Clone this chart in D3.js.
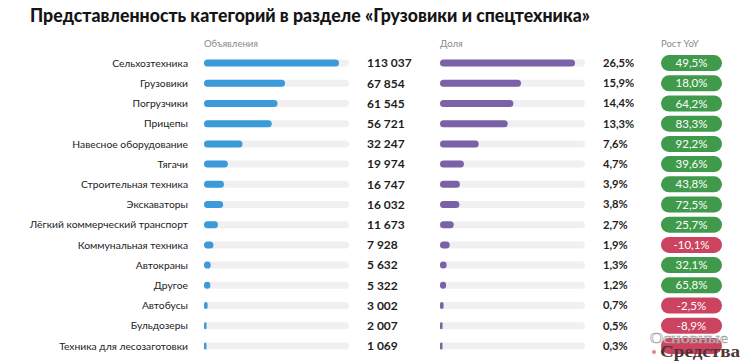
<!DOCTYPE html>
<html>
<head>
<meta charset="utf-8">
<script src="https://cdn.jsdelivr.net/npm/d3@7"></script>
<style>
  body { margin: 0; background: #fff; }
  svg { display: block; }
</style>
</head>
<body>
<div id="chart"></div>
<script>
// Категории раздела «Грузовики и спецтехника»
const categories = [
  "Сельхозтехника", "Грузовики", "Погрузчики", "Прицепы", "Навесное оборудование",
  "Тягачи", "Строительная техника", "Экскаваторы", "Лёгкий коммерческий транспорт",
  "Коммунальная техника", "Автокраны", "Другое", "Автобусы", "Бульдозеры",
  "Техника для лесозаготовки"
];
const listings = [113037, 67854, 61545, 56721, 32247, 19974, 16747, 16032, 11673, 7928, 5632, 5322, 3002, 2007, 1069];
const shares = [26.5, 15.9, 14.4, 13.3, 7.6, 4.7, 3.9, 3.8, 2.7, 1.9, 1.3, 1.2, 0.7, 0.5, 0.3];
// последнее значение закрыто водяным знаком
const growth = [49.5, 18.0, 64.2, 83.3, 92.2, 39.6, 43.8, 72.5, 25.7, -10.1, 32.1, 65.8, -2.5, -8.9, null];
const headers = ["Объявления", "Доля", "Рост YoY"];

const W = 750, H = 363;
const svg = d3.select("#chart").append("svg").attr("width", W).attr("height", H);

const fmtInt = v => d3.format(",")(v).replace(/,/g, " ");
const fmtPct = v => v.toFixed(1).replace(".", ",") + "%";

const rows = categories.map((c, i) => ({
  name: c, n: listings[i], share: shares[i], g: growth[i]
}));

const y = d3.scaleBand()
  .domain(d3.range(rows.length))
  .range([53, 356])
  .padding(0);

const barH = 7;
const xBlue = d3.scaleLinear().domain([0, d3.max(listings) * 1.074]).range([204, 349]);
const xPurp = d3.scaleLinear().domain([0, d3.max(shares) * 1.074]).range([440, 585]);

// Title
svg.append("text")
  .attr("x", 30).attr("y", 22)
  .attr("font-family", "Lato, sans-serif")
  .attr("font-weight", "900")
  .attr("font-size", 19)
  .attr("fill", "#151515")
  .attr("textLength", 560)
  .attr("lengthAdjust", "spacingAndGlyphs")
  .text("Представленность категорий в разделе «Грузовики и спецтехника»");

// Column headers
const hdrX = [204, 440, 661];
svg.selectAll("text.hdr")
  .data(headers)
  .join("text")
  .attr("class", "hdr")
  .attr("x", (d, i) => hdrX[i]).attr("y", 47)
  .attr("font-family", "Lato, sans-serif")
  .attr("font-size", 9.5)
  .attr("fill", "#8a8a8a")
  .text(d => d);

const row = svg.selectAll("g.row")
  .data(rows)
  .join("g")
  .attr("class", "row")
  .attr("transform", (d, i) => `translate(0,${y(i) + y.bandwidth() / 2})`);

row.append("text")
  .attr("x", 188).attr("dy", "0.35em")
  .attr("text-anchor", "end")
  .attr("font-family", "Lato, sans-serif")
  .attr("font-size", 10.3)
  .attr("fill", "#222")
  .text(d => d.name);

function pillBar(sel, x, value, color) {
  sel.append("rect")
    .attr("x", x.range()[0]).attr("y", -barH / 2)
    .attr("width", x.range()[1] - x.range()[0]).attr("height", barH)
    .attr("rx", barH / 2)
    .attr("fill", "#f1eff2");
  sel.append("rect")
    .attr("x", x.range()[0]).attr("y", -barH / 2)
    .attr("width", d => Math.max(2.5, x(value(d)) - x.range()[0]))
    .attr("height", barH)
    .attr("rx", d => Math.min(barH / 2, Math.max(2.5, x(value(d)) - x.range()[0]) / 2))
    .attr("fill", color);
}

pillBar(row, xBlue, d => d.n, "#3b9ad9");
pillBar(row, xPurp, d => d.share, "#7a62a9");

row.append("text")
  .attr("x", 367).attr("dy", "0.35em")
  .attr("font-family", "Lato, sans-serif")
  .attr("font-weight", "bold")
  .attr("font-size", 12)
  .attr("fill", "#1e1e1e")
  .text(d => fmtInt(d.n));

row.append("text")
  .attr("x", 603).attr("dy", "0.35em")
  .attr("font-family", "Lato, sans-serif")
  .attr("font-weight", "bold")
  .attr("font-size", 11.2)
  .attr("fill", "#1e1e1e")
  .text(d => fmtPct(d.share));

// Growth pills
row.append("rect")
  .attr("x", 661).attr("y", -8)
  .attr("width", 61).attr("height", 16)
  .attr("rx", 8)
  .attr("fill", d => (d.g === null || d.g < 0) ? "#cc4360" : "#3f9b4b");

row.append("text")
  .attr("x", 691.5).attr("dy", "0.36em")
  .attr("text-anchor", "middle")
  .attr("font-family", "Lato, sans-serif")
  .attr("font-size", 11.5)
  .attr("fill", "#fff")
  .text(d => d.g === null ? "" : fmtPct(d.g));

// Watermark
const wm = svg.append("g").attr("font-family", "'Liberation Serif', 'DejaVu Serif', serif");
wm.append("text")
  .attr("x", 650).attr("y", 343)
  .attr("font-size", 15)
  .attr("fill", "rgba(255,255,255,0.55)")
  .attr("stroke", "#a0a0a0").attr("stroke-width", 0.6)
  .attr("textLength", 78)
  .attr("lengthAdjust", "spacingAndGlyphs")
  .text("Основные");
wm.append("circle").attr("cx", 654).attr("cy", 352).attr("r", 2).attr("fill", "#e5857a");
wm.append("text")
  .attr("x", 660).attr("y", 357)
  .attr("font-size", 16)
  .attr("font-weight", "bold")
  .attr("fill", "#4e3434")
  .attr("textLength", 80)
  .attr("lengthAdjust", "spacingAndGlyphs")
  .text("Средства");
</script>
</body>
</html>
